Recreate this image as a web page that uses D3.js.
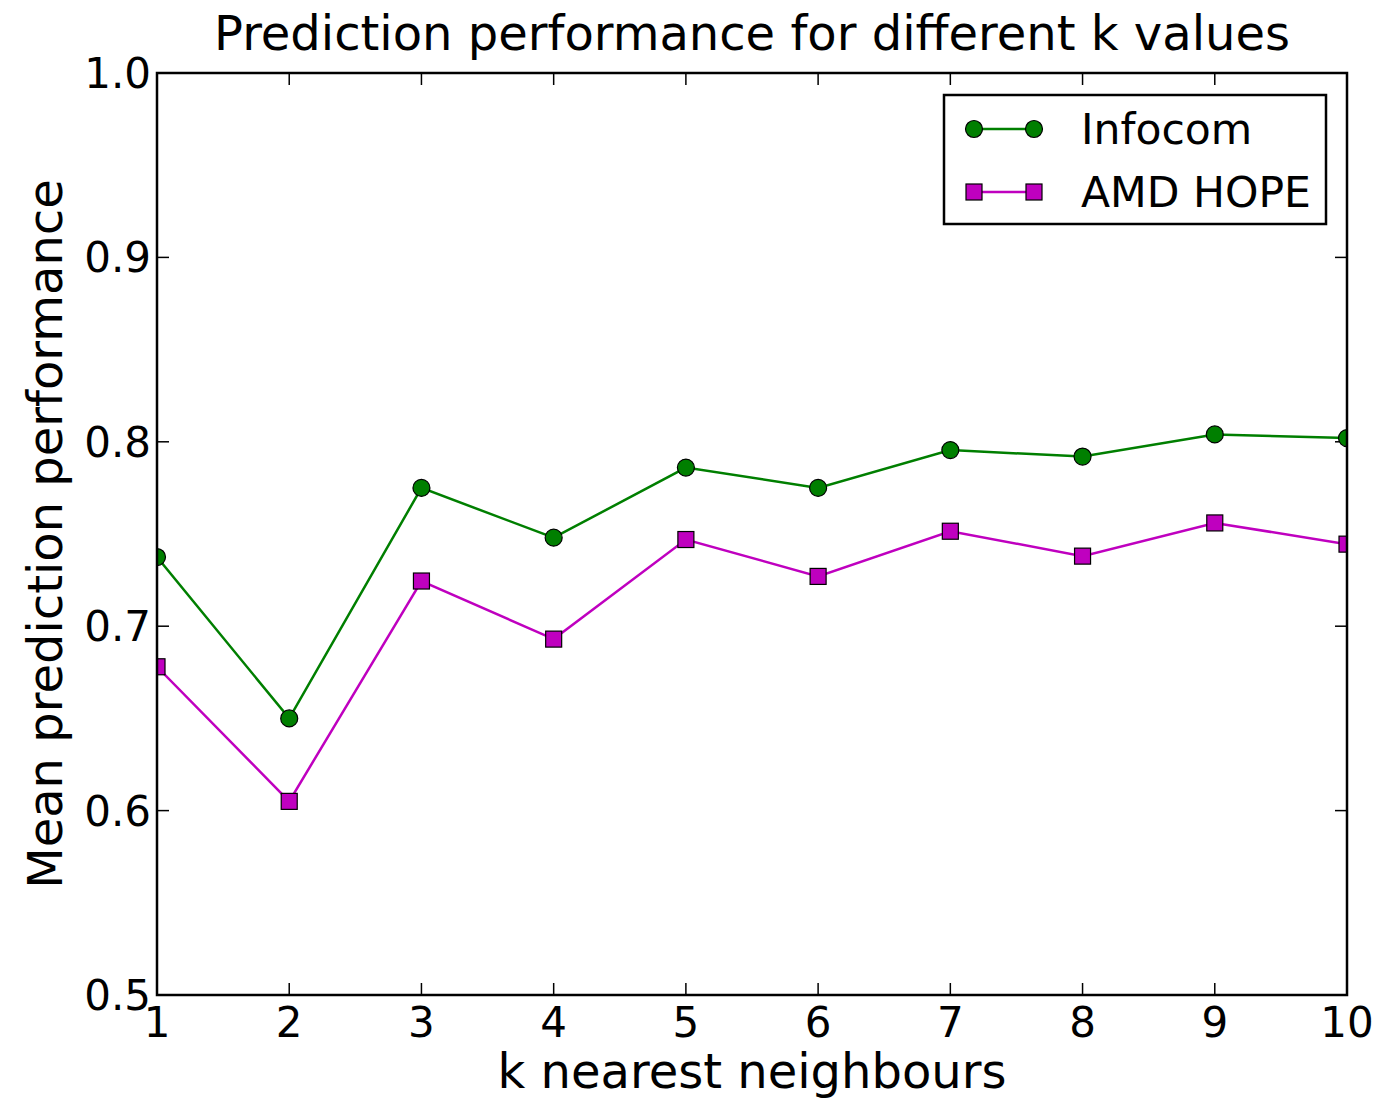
<!DOCTYPE html>
<html><head><meta charset="utf-8">
<script src="https://cdn.jsdelivr.net/npm/d3@7"></script>
<style>body{margin:0;background:#fff;} text{font-family:"DejaVu Sans",sans-serif;}</style>
</head><body>
<svg id="c" width="1384" height="1098"></svg>
<script>
const kValues = [1,2,3,4,5,6,7,8,9,10];
const infocom = [0.7375,0.650,0.775,0.748,0.786,0.775,0.7955,0.792,0.804,0.802];
const amdHope = [0.678,0.605,0.7245,0.693,0.747,0.727,0.7515,0.738,0.756,0.7445];
const yTicks = [0.5,0.6,0.7,0.8,0.9,1.0];
const yTickLabels = ["0.5","0.6","0.7","0.8","0.9","1.0"];
const seriesNames = ["Infocom","AMD HOPE"];

const L=157,R=1347,T=73,B=995;
const svg=d3.select("#c");
const x=d3.scaleLinear().domain([1,10]).range([L,R]);
const y=d3.scaleLinear().domain([0.5,1.0]).range([B,T]);

svg.append("defs").append("clipPath").attr("id","clip").append("rect").attr("x",L).attr("y",T).attr("width",R-L).attr("height",B-T);

const tl=12, fs=42;
const g=svg.append("g");
kValues.forEach(k=>{
  g.append("line").attr("x1",x(k)).attr("x2",x(k)).attr("y1",B).attr("y2",B-tl).attr("stroke","#000").attr("stroke-width",1.5);
  g.append("line").attr("x1",x(k)).attr("x2",x(k)).attr("y1",T).attr("y2",T+tl).attr("stroke","#000").attr("stroke-width",1.5);
  g.append("text").attr("x",x(k)).attr("y",B+42).attr("text-anchor","middle").attr("font-size",fs).text(k);
});
yTicks.forEach((v,i)=>{
  g.append("line").attr("x1",L).attr("x2",L+tl).attr("y1",y(v)).attr("y2",y(v)).attr("stroke","#000").attr("stroke-width",1.5);
  g.append("line").attr("x1",R).attr("x2",R-tl).attr("y1",y(v)).attr("y2",y(v)).attr("stroke","#000").attr("stroke-width",1.5);
  g.append("text").attr("x",L-6).attr("y",y(v)+15).attr("text-anchor","end").attr("font-size",fs).text(yTickLabels[i]);
});

const plot=svg.append("g").attr("clip-path","url(#clip)");
const line=d3.line().x((d,i)=>x(kValues[i])).y(d=>y(d));
plot.append("path").datum(infocom).attr("d",line).attr("fill","none").attr("stroke","#007f00").attr("stroke-width",2.5);
plot.append("path").datum(amdHope).attr("d",line).attr("fill","none").attr("stroke","#bf00bf").attr("stroke-width",2.5);
plot.selectAll("circle.i").data(infocom).enter().append("circle")
  .attr("cx",(d,i)=>x(kValues[i])).attr("cy",d=>y(d)).attr("r",8.5)
  .attr("fill","#007f00").attr("stroke","#000").attr("stroke-width",1.2);
plot.selectAll("rect.a").data(amdHope).enter().append("rect")
  .attr("x",(d,i)=>x(kValues[i])-8).attr("y",d=>y(d)-8).attr("width",16).attr("height",16)
  .attr("fill","#bf00bf").attr("stroke","#000").attr("stroke-width",1.2);

svg.append("rect").attr("x",L).attr("y",T).attr("width",R-L).attr("height",B-T).attr("fill","none").attr("stroke","#000").attr("stroke-width",2.5);

const lg=svg.append("g");
lg.append("rect").attr("x",944).attr("y",95).attr("width",382).attr("height",129).attr("fill","#fff").attr("stroke","#000").attr("stroke-width",2.5);
const ly=[129,192];
lg.append("line").attr("x1",974).attr("x2",1034).attr("y1",ly[0]).attr("y2",ly[0]).attr("stroke","#007f00").attr("stroke-width",2.5);
[974,1034].forEach(cx=>lg.append("circle").attr("cx",cx).attr("cy",ly[0]).attr("r",8.5).attr("fill","#007f00").attr("stroke","#000").attr("stroke-width",1.2));
lg.append("line").attr("x1",974).attr("x2",1034).attr("y1",ly[1]).attr("y2",ly[1]).attr("stroke","#bf00bf").attr("stroke-width",2.5);
[974,1034].forEach(cx=>lg.append("rect").attr("x",cx-8).attr("y",ly[1]-8).attr("width",16).attr("height",16).attr("fill","#bf00bf").attr("stroke","#000").attr("stroke-width",1.2));
seriesNames.forEach((n,i)=>lg.append("text").attr("x",1081).attr("y",ly[i]+15).attr("font-size",fs+0.5).text(n));

svg.append("text").attr("x",(L+R)/2).attr("y",50).attr("text-anchor","middle").attr("font-size",48).text("Prediction performance for different k values");
svg.append("text").attr("x",(L+R)/2).attr("y",1088).attr("text-anchor","middle").attr("font-size",48).text("k nearest neighbours");
svg.append("text").attr("transform",`translate(62,${(T+B)/2}) rotate(-90)`).attr("text-anchor","middle").attr("font-size",48).text("Mean prediction performance");
</script>
</body></html>
